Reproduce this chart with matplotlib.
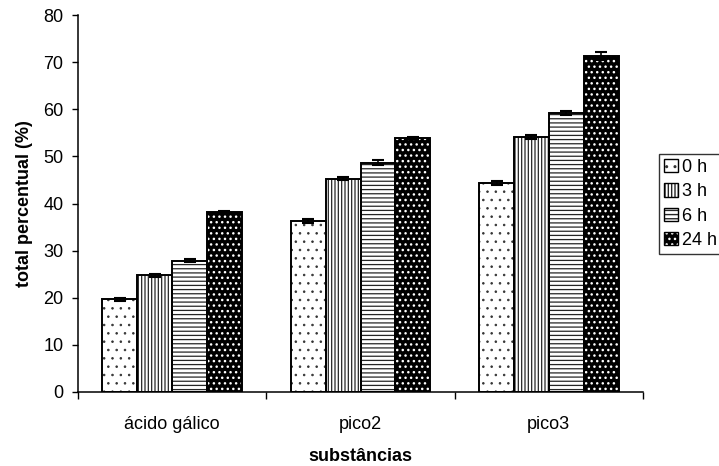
import numpy as np
import matplotlib
matplotlib.use("Agg")
import matplotlib.pyplot as plt
from matplotlib.patches import Patch

plt.rcParams['font.family'] = ['Liberation Sans', 'DejaVu Sans']

substances = ['ácido gálico', 'pico2', 'pico3']
times = ['0 h', '3 h', '6 h', '24 h']

# total percentual (%) per substance, one list per time
vals_0h = [19.7, 36.3, 44.3]
vals_3h = [24.8, 45.3, 54.1]
vals_6h = [27.9, 48.7, 59.2]
vals_24h = [38.2, 53.9, 71.3]

err_0h = [0.3, 0.4, 0.4]
err_3h = [0.3, 0.3, 0.4]
err_6h = [0.3, 0.5, 0.4]
err_24h = [0.3, 0.3, 0.9]

series = [vals_0h, vals_3h, vals_6h, vals_24h]
errors = [err_0h, err_3h, err_6h, err_24h]

# face colour, hatch colour, hatch pattern, hatch line width
styles = [
    ('white', '0.2', '..', 0.6),
    ('white', '0.15', '|||||', 0.9),
    ('white', '0.15', '----', 0.9),
    ('black', 'white', '...', 1.0),
]

FS = 13

fig = plt.figure(figsize=(7.19, 4.66), dpi=100)
ax = fig.add_axes([78 / 719, 1 - 392 / 466, (643 - 78) / 719, (392 - 15) / 466])

x = np.arange(len(substances))
w = 0.185

def hatched_bar(xpos, heights, face, hcol, hatch, hlw):
    # hatch width is picked up from rcParams when the patch is made
    with plt.rc_context({'hatch.linewidth': hlw}):
        bars = ax.bar(xpos, heights, w, color=face, edgecolor=hcol, hatch=hatch,
                      linewidth=0, zorder=2)
    ax.bar(xpos, heights, w, fill=False, edgecolor='black', linewidth=1.4, zorder=3)
    return bars

for i, (vals, errs, st) in enumerate(zip(series, errors, styles)):
    xpos = x + (i - 1.5) * w
    hatched_bar(xpos, vals, *st)
    ax.errorbar(xpos, vals, yerr=errs, fmt='none', ecolor='black',
                elinewidth=1.2, capsize=4, capthick=1.5, zorder=4)

ax.set_xlim(-0.5, 2.5)
ax.set_ylim(0, 80)
ax.set_yticks(np.arange(0, 81, 10))
ax.set_xticks(x)
ax.set_xticklabels(substances, fontsize=FS)
ax.set_xticks([-0.5, 0.5, 1.5, 2.5], minor=True)
ax.tick_params(axis='x', which='major', length=0, pad=17)
ax.tick_params(axis='x', which='minor', length=5, width=1, direction='out')
ax.tick_params(axis='y', length=4.5, width=1, direction='out', pad=6, labelsize=FS)

for side in ['top', 'right']:
    ax.spines[side].set_visible(False)
for side in ['left', 'bottom']:
    ax.spines[side].set_linewidth(1.1)

ax.set_ylabel('total percentual (%)', fontsize=FS, fontweight='bold', labelpad=7)
ax.set_xlabel('substâncias', fontsize=FS, fontweight='bold', labelpad=11)

# legend keys: hatched square with a black outline on top
handles = []
for face, hcol, hatch, hlw in styles:
    with plt.rc_context({'hatch.linewidth': hlw}):
        p = Patch(facecolor=face, edgecolor=hcol, hatch=hatch, linewidth=0)
    outline = Patch(fill=False, edgecolor='black', linewidth=1.0)
    handles.append((p, outline))
leg = fig.legend(handles, times, loc='center left', bbox_to_anchor=(659 / 719, 1 - 204 / 466),
                 fontsize=FS, frameon=True, fancybox=False, edgecolor='black',
                 handlelength=0.75, handleheight=0.75, handletextpad=0.2,
                 labelspacing=0.4, borderpad=0.3, borderaxespad=0)
leg.get_frame().set_linewidth(1.0)

fig.savefig('out.png', dpi=100)
